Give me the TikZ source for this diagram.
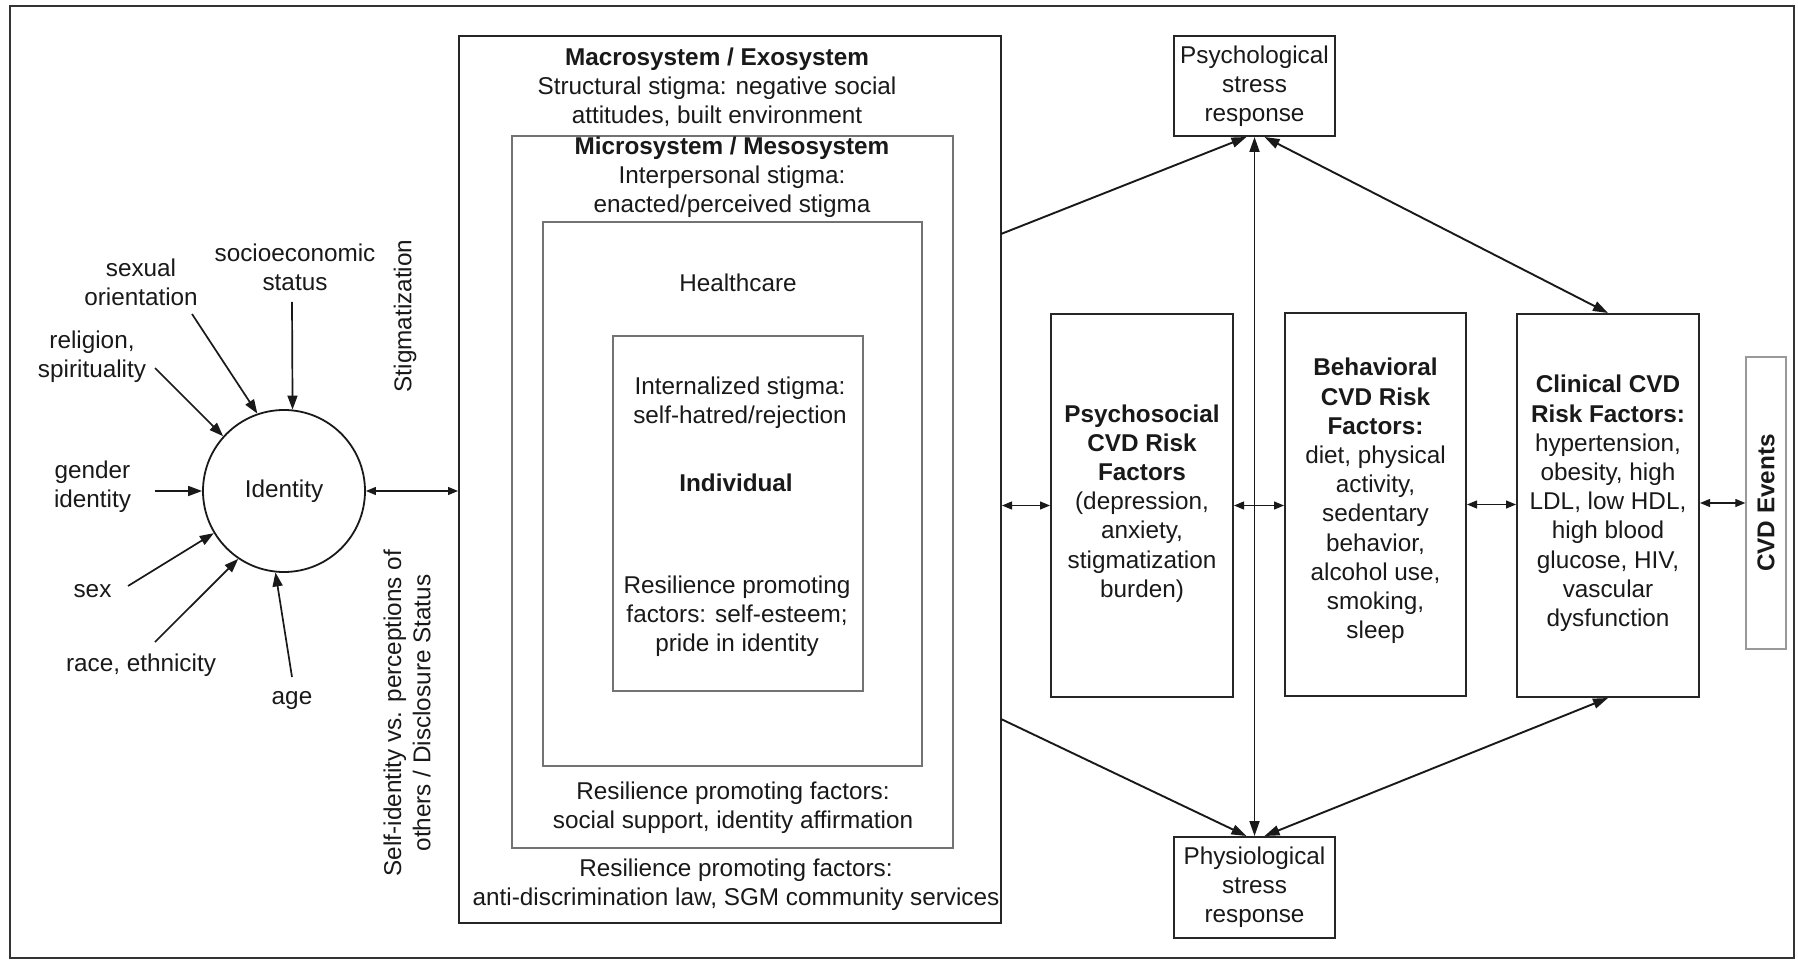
\documentclass[tikz,border=0pt]{standalone}
\usepackage{fontspec}
\setmainfont{Liberation Sans}
\usetikzlibrary{arrows.meta,fit,calc}
\begin{document}
\begin{tikzpicture}[x=0.5pt,y=-0.5pt,
  font=\fontsize{12.15}{14.6}\selectfont,
  txt/.style={align=center, inner sep=0pt, text=black!90},
  boxk/.style={draw=black!85, line width=1pt, inner sep=0pt},
  boxg/.style={draw=black!55, line width=0.8pt, inner sep=0pt},
  inarr/.style={draw=black!90, line width=0.85pt, -{Triangle[length=7pt,width=5pt]}},
  bigarr/.style={draw=black!90, line width=0.95pt, -{Triangle[length=7.5pt,width=5pt]}},
  bigdbl/.style={draw=black!90, line width=0.95pt, {Triangle[length=7.5pt,width=5pt]}-{Triangle[length=7.5pt,width=5pt]}},
  smalldbl/.style={draw=black!90, line width=0.6pt, {Triangle[length=5pt,width=4pt]}-{Triangle[length=5pt,width=4pt]}}]
\useasboundingbox (0,0) rectangle (1798,962);
\fill[white] (0,0) rectangle (1798,962);
% outer frame
\node[fit={(10,6)(1794,958)}, draw=black!80, line width=1.1pt, inner sep=0pt] (frame) {};

% nested system boxes
\node[fit={(459,36)(1001,923)}, boxk] (macro) {};
\node[fit={(512,136)(953,848)}, boxg] (micro) {};
\node[fit={(543,222)(922,766)}, boxg] (health) {};
\node[fit={(613,336)(863,691)}, boxg] (indiv) {};

% system texts
\node[txt] (mactxt) at (717,87.5) {\textbf{Macrosystem / Exosystem}\\Structural stigma: negative social\\attitudes, built environment};
\node[txt] (mictxt) at (732,177) {\textbf{Microsystem / Mesosystem}\\Interpersonal stigma:\\enacted/perceived stigma};
\node[txt] (hctxt) at (738,283) {Healthcare};
\node[txt] (intxt) at (740,402.5) {Internalized stigma:\\self-hatred/rejection};
\node[txt, font=\fontsize{12.15}{14.6}\selectfont\bfseries] (indtxt) at (736,483) {Individual};
\node[txt] (resind) at (737,616.5) {Resilience promoting\\factors: self-esteem;\\pride in identity};
\node[txt] (resmic) at (733,807.5) {Resilience promoting factors:\\social support, identity affirmation};
\node[txt] (resmac) at (736,884.5) {Resilience promoting factors:\\anti-discrimination law, SGM community services};

% identity and its inputs
\node[circle, draw=black!90, line width=0.9pt, minimum size=81pt, inner sep=0pt, text=black!90] (identity) at (284,491) {Identity};
\node[txt] (socio) at (295,267.5) {socioeconomic\\status};
\node[txt] (sexor) at (141,282) {sexual\\orientation};
\node[txt] (relig) at (92,357) {religion,\\spirituality};
\node[txt] (gender) at (92.5,487) {gender\\identity};
\node[txt] (sex) at (92.5,591) {sex};
\node[txt] (race) at (141,665) {race, ethnicity};
\node[txt] (age) at (292,700) {age};

\coordinate (sSocio) at (292,302);
\coordinate (sSexor) at (192,314);
\coordinate (sRelig) at (155,368);
\coordinate (sGender) at (155,491);
\coordinate (sSex) at (128,586);
\coordinate (sRace) at (155,642);
\coordinate (sAge) at (292,677);
\draw[inarr] (sSocio) -- (identity.84);
\draw[inarr] (sSexor) -- (identity.109);
\draw[inarr] (sRelig) -- (identity.138.5);
\draw[inarr] (sGender) -- (identity.west);
\draw[inarr] (sSex) -- (identity.211.8);
\draw[inarr] (sRace) -- (identity.236);
\draw[inarr] (sAge) -- (identity.264.5);

\draw[smalldbl] (identity.east) -- (identity.east -| macro.west);

\node[txt, rotate=90] (stig) at (405,316) {Stigmatization};
\node[txt, rotate=90] (selfid) at (407,713) {Self-identity vs. perceptions of\\others / Disclosure Status};

% right side
\node[fit={(1174,36)(1335,136)}, boxk] (psych) {};
\node[txt] (psychtxt) at (psych.center) {Psychological\\stress\\response};
\node[fit={(1174,837)(1335,938)}, boxk] (physio) {};
\node[txt] (physiotxt) at (physio.center) {Physiological\\stress\\response};

\node[fit={(1051,314)(1233,697)}, boxk] (psyso) {};
\node[txt] (psysotxt) at ($(psyso.center)+(0,-2)$) {\textbf{Psychosocial}\\\textbf{CVD Risk}\\\textbf{Factors}\\(depression,\\anxiety,\\stigmatization\\burden)};
\node[fit={(1285,313)(1466,696)}, boxk] (behav) {};
\node[txt] (behavtxt) at ($(behav.center)+(0,-3.5)$) {\textbf{Behavioral}\\\textbf{CVD Risk}\\\textbf{Factors:}\\diet, physical\\activity,\\sedentary\\behavior,\\alcohol use,\\smoking,\\sleep};
\node[fit={(1517,314)(1699,697)}, boxk] (clin) {};
\node[txt] (clintxt) at ($(clin.center)+(0,-2)$) {\textbf{Clinical CVD}\\\textbf{Risk Factors:}\\hypertension,\\obesity, high\\LDL, low HDL,\\high blood\\glucose, HIV,\\vascular\\dysfunction};
\node[fit={(1746,357)(1786,649)}, draw=black!40, line width=0.7pt, inner sep=0pt] (cvd) {};
\node[txt, rotate=90, font=\fontsize{12.15}{14.6}\selectfont\bfseries] (cvdtxt) at (cvd.center) {CVD Events};

\coordinate (mTop) at (1001,234);
\coordinate (mBot) at (1001,719);
\draw[bigarr] (mTop) -- ([xshift=-4pt]psych.south);
\draw[bigarr] (mBot) -- ([xshift=-4pt]physio.north);
\draw[bigdbl] (psych.south) -- (physio.north);
\draw[bigdbl] ([xshift=5pt]psych.south) -- (clin.north);
\draw[bigdbl] ([xshift=5pt]physio.north) -- (clin.south);

\draw[smalldbl] (macro.east |- psyso.west) -- (psyso.west);
\draw[smalldbl] (psyso.east) -- (behav.west |- psyso.east);
\draw[smalldbl] (behav.east) -- (clin.west |- behav.east);
\draw[smalldbl] (clin.east |- cvd.west) -- (cvd.west);
\end{tikzpicture}
\end{document}
